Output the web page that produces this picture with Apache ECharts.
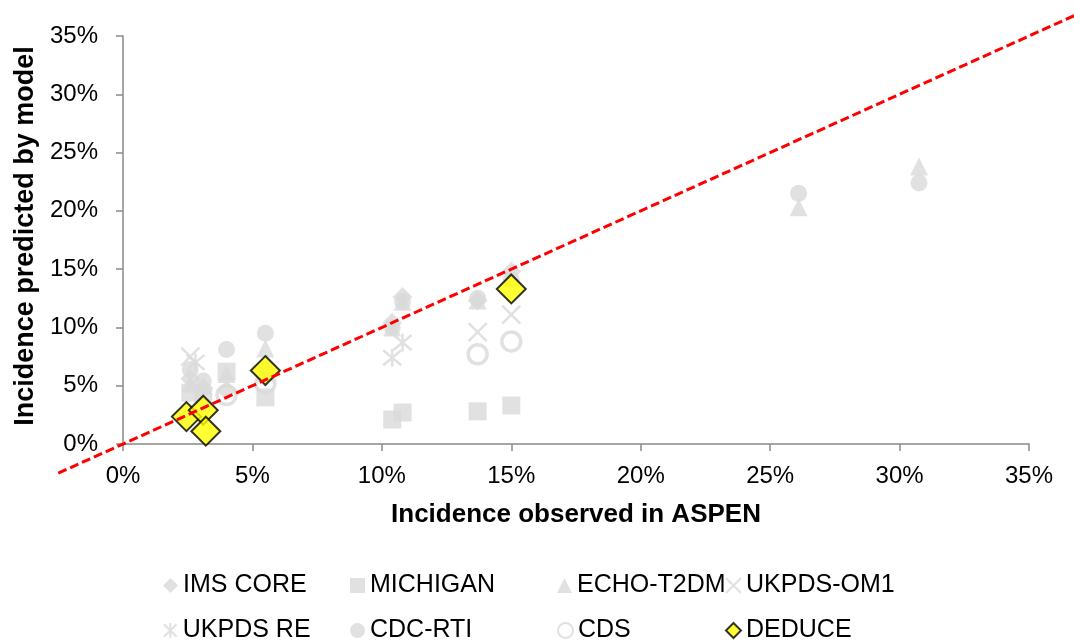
<!DOCTYPE html>
<html>
<head>
<meta charset="utf-8">
<script src="https://cdn.jsdelivr.net/npm/echarts@6/dist/echarts.min.js"></script>
<style>
html,body{margin:0;padding:0;background:#fff;}
#chart{width:1074px;height:641px;}
</style>
</head>
<body>
<div id="chart"></div>
<script>
// Data (percent values)
const xTicks = [0, 5, 10, 15, 20, 25, 30, 35];
const imsCore  = [[2.6,5.6],[3.1,4.8],[4.0,4.6],[5.5,6.4],[10.4,10.4],[10.8,12.6],[13.7,12.3],[15.0,14.8]];
const michigan = [[2.6,4.4],[3.1,4.0],[4.0,6.2],[5.5,4.0],[10.4,2.1],[10.8,2.7],[13.7,2.8],[15.0,3.3]];
const echoT2dm = [[2.6,5.2],[3.1,5.0],[4.0,6.0],[5.5,8.2],[10.4,10.0],[10.8,12.2],[13.7,12.3],[15.0,14.2],[26.1,20.3],[30.75,23.8]];
const ukpdsOm1 = [[2.6,7.5],[5.5,6.1],[13.7,9.6],[15.0,11.1]];
const ukpdsRe  = [[2.8,7.0],[10.4,7.4],[10.8,8.7]];
const cdcRti   = [[2.6,6.4],[3.1,5.4],[4.0,8.1],[5.5,9.5],[10.4,10.0],[10.8,12.2],[13.7,12.5],[15.0,14.1],[26.1,21.5],[30.75,22.4]];
const cds      = [[4.0,4.2],[5.5,5.2],[13.7,7.7],[15.0,8.8]];
const deduce   = [[2.45,2.35],[3.1,2.9],[3.2,1.1],[5.5,6.3],[15.0,13.3]];
// identity (y = x) reference line, extended past the plot area: [x1, y1, x2, y2]
const identityLine = [[-2.5, -2.5, 36.8, 36.8]];
// legend layout: rows of names
const legendRows = [['IMS CORE', 'MICHIGAN', 'ECHO-T2DM', 'UKPDS-OM1'], ['UKPDS RE', 'CDC-RTI', 'CDS', 'DEDUCE']];

const FONT = "'Liberation Sans', Arial, sans-serif";
const GRAY = '#d9d9d9';
const AXIS = '#898989';
const X_PATH = 'path://M0,0L20,20M20,0L0,20';
const AST_PATH = 'path://M0,0L20,20M20,0L0,20M10,-2L10,22';

function scatter(name, data, symbol, size, style, z) {
  return { name, type: 'scatter', data, symbol, symbolSize: size, itemStyle: style, z: z || 2, emphasis: {disabled: true} };
}

const legendLefts = [163, 350, 557, 725];
const legendTops = [573, 618];
const legends = [];
legendRows.forEach(function (row, r) {
  row.forEach(function (name, c) {
    legends.push({
      orient: 'horizontal', left: legendLefts[c], top: legendTops[r], padding: 0,
      itemWidth: 15, itemHeight: 15, itemStyle: {},
      textStyle: { fontSize: 25, color: '#000', fontFamily: FONT },
      data: [name]
    });
  });
});

const chart = echarts.init(document.getElementById('chart'));
const option = {
  animation: false,
  backgroundColor: '#fff',
  grid: { left: 123, right: 45, top: 36, bottom: 197 },
  xAxis: {
    type: 'value', min: xTicks[0], max: xTicks[xTicks.length - 1], interval: 5,
    axisLine: { show: true, lineStyle: { color: AXIS, width: 1.5 } },
    axisTick: { show: true, length: 7, lineStyle: { color: AXIS, width: 1.5 } },
    splitLine: { show: false },
    axisLabel: { formatter: '{value}%', color: '#000', fontSize: 24, fontFamily: FONT, margin: 20 },
    name: 'Incidence observed in ASPEN', nameLocation: 'middle', nameGap: 58,
    nameTextStyle: { fontSize: 26, fontWeight: 'bold', color: '#000', fontFamily: FONT }
  },
  yAxis: {
    type: 'value', min: 0, max: 35, interval: 5,
    axisLine: { show: true, lineStyle: { color: AXIS, width: 1.5 } },
    axisTick: { show: true, length: 7, lineStyle: { color: AXIS, width: 1.5 } },
    splitLine: { show: false },
    axisLabel: { formatter: '{value}%', color: '#000', fontSize: 24, fontFamily: FONT, margin: 25 },
    name: 'Incidence predicted by model', nameLocation: 'middle', nameGap: 84,
    nameTextStyle: { fontSize: 27, fontWeight: 'bold', color: '#000', fontFamily: FONT, padding: [0, 0, 0, 8] }
  },
  legend: legends,
  series: [
    scatter('IMS CORE', imsCore, 'diamond', 20, { color: GRAY }),
    scatter('MICHIGAN', michigan, 'rect', 18, { color: GRAY }),
    scatter('ECHO-T2DM', echoT2dm, 'triangle', 18, { color: GRAY }),
    scatter('UKPDS-OM1', ukpdsOm1, X_PATH, 18, { color: 'rgba(0,0,0,0)', borderColor: GRAY, borderWidth: 2.5 }),
    scatter('UKPDS RE', ukpdsRe, AST_PATH, 18, { color: 'rgba(0,0,0,0)', borderColor: GRAY, borderWidth: 2.5 }),
    scatter('CDC-RTI', cdcRti, 'circle', 17, { color: GRAY }),
    scatter('CDS', cds, 'circle', 19, { color: 'rgba(0,0,0,0)', borderColor: GRAY, borderWidth: 3.5 }),
    scatter('DEDUCE', deduce, 'diamond', 29, { color: '#ffff00', borderColor: '#000', borderWidth: 2 }, 3),
    {
      name: 'identity', type: 'custom', data: identityLine, clip: false, z: 5, silent: true,
      encode: { x: [0, 2], y: [1, 3] },
      renderItem: function (params, api) {
        const p1 = api.coord([api.value(0), api.value(1)]);
        const p2 = api.coord([api.value(2), api.value(3)]);
        return {
          type: 'line',
          shape: { x1: p1[0], y1: p1[1], x2: p2[0], y2: p2[1] },
          style: { stroke: '#ff0000', lineWidth: 3, lineDash: [9, 4], fill: null }
        };
      }
    }
  ]
};
chart.setOption(option);
</script>
</body>
</html>
